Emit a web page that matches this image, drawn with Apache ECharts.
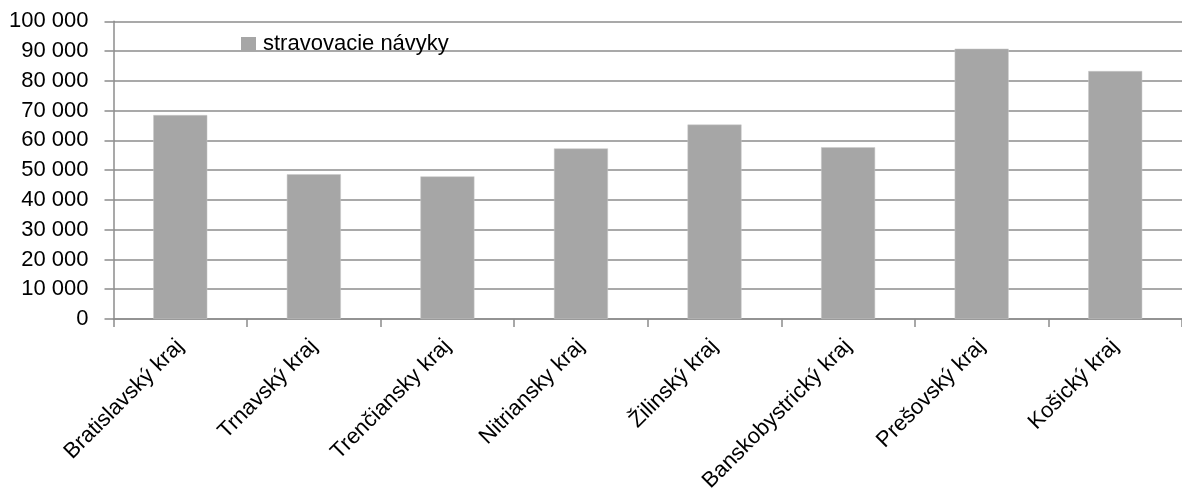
<!DOCTYPE html>
<html>
<head>
<meta charset="utf-8">
<script src="https://cdn.jsdelivr.net/npm/echarts@6/dist/echarts.min.js"></script>
<style>
html,body{margin:0;padding:0;background:#fff;}
#chart{width:1182px;height:501px;}
</style>
</head>
<body>
<div id="chart"></div>
<script>
const categories = ["Bratislavský kraj","Trnavský kraj","Trenčiansky kraj","Nitriansky kraj","Žilinský kraj","Banskobystrický kraj","Prešovský kraj","Košický kraj"];
const seriesName = "stravovacie návyky";
const values = [68500, 48600, 47900, 57300, 65300, 57700, 90800, 83300];
const yMin = 0, yMax = 100000, yStep = 10000;

const FONT = '"Liberation Sans", Arial, sans-serif';
const chart = echarts.init(document.getElementById('chart'), null, {renderer: 'canvas'});
function fmt(v){ return String(v).replace(/\B(?=(\d{3})+(?!\d))/g, ' '); }
chart.setOption({
  animation: false,
  backgroundColor: '#fff',
  textStyle: {fontFamily: FONT},
  legend: {
    left: 236, top: 28,
    itemWidth: 15, itemHeight: 14, itemGap: 10,
    itemStyle: {borderWidth: 0},
    textStyle: {fontFamily: FONT, fontSize: 22, color: '#000', padding: [0,0,0,2]},
    data: [{name: seriesName, icon: 'rect'}]
  },
  grid: {left: 113.5, right: -3, top: 21.3, bottom: 182, containLabel: false},
  xAxis: {
    type: 'category', data: categories,
    axisLine: {show: true, lineStyle: {color: '#8c8c8c', width: 1.5}},
    axisTick: {show: true, length: 8, alignWithLabel: false, lineStyle: {color: '#8c8c8c', width: 1.5}},
    axisLabel: {rotate: 45, interval: 0, margin: 24, fontFamily: FONT, fontSize: 22, color: '#000'},
    splitLine: {show: false}
  },
  yAxis: {
    type: 'value', min: yMin, max: yMax, interval: yStep,
    axisLine: {show: true, lineStyle: {color: '#8c8c8c', width: 1.5}},
    axisTick: {show: true, length: 9, lineStyle: {color: '#8c8c8c', width: 1.5}},
    axisLabel: {margin: 25, fontFamily: FONT, fontSize: 22, color: '#000', formatter: fmt},
    splitLine: {show: true, lineStyle: {color: '#8c8c8c', width: 1.5}}
  },
  series: [{
    name: seriesName, type: 'bar', data: values, barWidth: 54,
    itemStyle: {color: '#a6a6a6', borderColor: '#c8c8c8', borderWidth: 0.5}
  }]
});
</script>
</body>
</html>
